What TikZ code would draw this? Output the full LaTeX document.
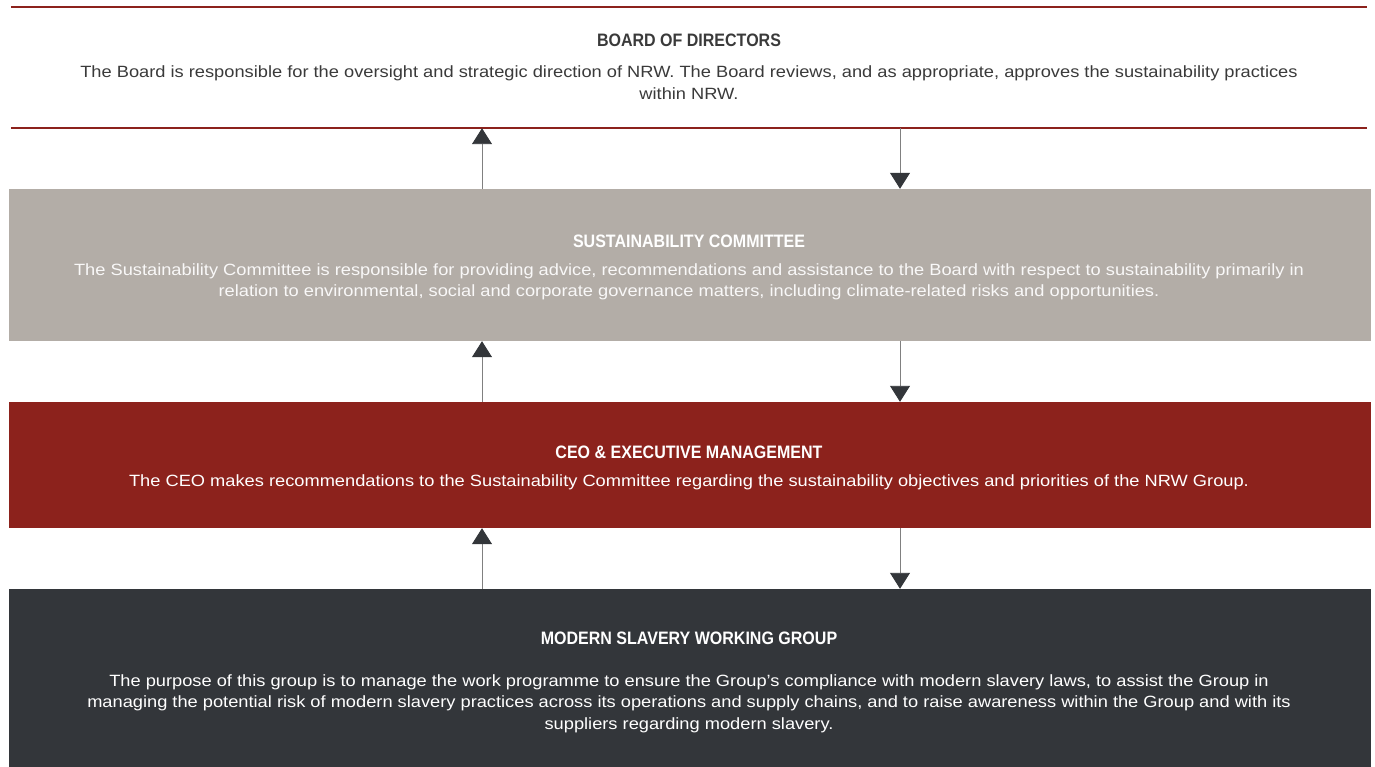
\documentclass[tikz,border=0pt]{standalone}
\usepackage{fontspec}
\setmainfont[FakeStretch=1.12]{Liberation Sans}
\newfontfamily\headfont[FakeStretch=0.89]{Liberation Sans}
\usetikzlibrary{arrows.meta,positioning}
\definecolor{nrwred}{HTML}{8C221C}
\definecolor{nrwgrey}{HTML}{B3ADA7}
\definecolor{nrwdark}{HTML}{33363A}
\definecolor{boardtext}{HTML}{3A3A3A}

\begin{document}
\begin{tikzpicture}[x=1pt, y=-1pt,
    panel/.style={rectangle, inner sep=0pt, minimum width=1362pt},
    headline/.style={font=\headfont\bfseries\fontsize{18}{20}\selectfont, inner sep=0pt},
    bodytext/.style={font=\fontsize{16.3}{21.5}\selectfont, align=center, inner sep=0pt},
    flow/.style={-{Triangle[width=20pt,length=16pt,fill=nrwdark,color=nrwdark]}, line width=0.9pt, draw=black!50}]
    \useasboundingbox (0,0) rectangle (1375,767);

    % boxes
    \node[panel, minimum width=1356pt, minimum height=121pt] (board) at (689,67.5) {};
    \node[panel, fill=nrwgrey, minimum height=152pt] (sustain) at (690,265) {};
    \node[panel, fill=nrwred, minimum height=126pt] (ceo) at (690,465) {};
    \node[panel, fill=nrwdark, minimum height=178pt] (mswg) at (690,678) {};
    \draw[nrwred, line width=1.8pt] (board.north west) -- (board.north east);
    \draw[nrwred, line width=1.8pt] (board.south west) -- (board.south east);

    % titles and texts
    \node[headline, text=boardtext] (boardhead) at (689,40) {BOARD OF DIRECTORS};
    \node[bodytext, text=boardtext] (boardbody) at (689,82.5) {The Board is responsible for the oversight and strategic direction of NRW. The Board reviews, and as appropriate, approves the sustainability practices\\within NRW.};

    \node[headline, text=white] (sustainhead) at (689,241) {SUSTAINABILITY COMMITTEE};
    \node[bodytext, text=white!92!nrwgrey] (sustainbody) at (689,282) {The Sustainability Committee is responsible for providing advice, recommendations and assistance to the Board with respect to sustainability primarily in\\relation to environmental, social and corporate governance matters, including climate-related risks and opportunities.};

    \node[headline, text=white] (ceohead) at (689,452) {CEO \& EXECUTIVE MANAGEMENT};
    \node[bodytext, text=white] (ceobody) at (689,482) {The CEO makes recommendations to the Sustainability Committee regarding the sustainability objectives and priorities of the NRW Group.};

    \node[headline, text=white] (mswghead) at (689,638) {MODERN SLAVERY WORKING GROUP};
    \node[bodytext, text=white] (mswgbody) at (689,703.5) {The purpose of this group is to manage the work programme to ensure the Group’s compliance with modern slavery laws, to assist the Group in\\managing the potential risk of modern slavery practices across its operations and supply chains, and to raise awareness within the Group and with its\\suppliers regarding modern slavery.};

    % arrows
    \coordinate (upx) at (482,0);
    \coordinate (downx) at (900,0);
    \draw[flow] (sustain.north -| upx) -- (board.south -| upx);
    \draw[flow] (board.south -| downx) -- (sustain.north -| downx);
    \draw[flow] (ceo.north -| upx) -- (sustain.south -| upx);
    \draw[flow] (sustain.south -| downx) -- (ceo.north -| downx);
    \draw[flow] (mswg.north -| upx) -- (ceo.south -| upx);
    \draw[flow] (ceo.south -| downx) -- (mswg.north -| downx);
\end{tikzpicture}
\end{document}
